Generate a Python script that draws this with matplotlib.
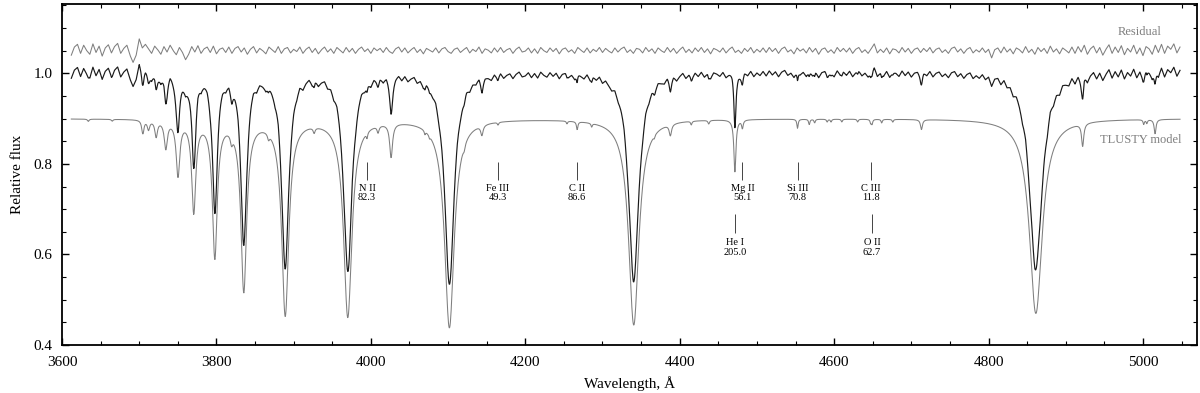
import numpy as np
import matplotlib
matplotlib.use("Agg")
import matplotlib.pyplot as plt
from matplotlib.ticker import MultipleLocator

plt.rcParams["font.family"] = ["Liberation Serif", "DejaVu Serif"]

# absorption lines of the model spectrum: centre (A), central depth, half width (A)
LINE_WL = [4861.3, 4340.5, 4101.7, 3970.1, 3889.1, 3835.4, 3797.9, 3770.6,
           3750.2, 3734.4, 3721.9, 3712.0, 3704.0,
           3705.0, 3819.6, 3867.5, 3926.5, 4009.3, 4026.2, 4120.8, 4143.8,
           4387.9, 4437.6, 4471.5, 4713.1, 4921.9, 5015.7,
           3995.0, 4070.0, 4076.0, 4164.7, 4254.0, 4267.2, 4286.0, 4367.0,
           4415.0, 4481.2, 4552.6, 4567.8, 4574.8, 4591.0, 4596.0, 4610.0,
           4630.5, 4647.4, 4649.1, 4661.6, 4676.0, 5001.0, 5005.0, 3634.0, 3665.0]
LINE_DEPTH = [0.430, 0.455, 0.460, 0.435, 0.430, 0.375, 0.300, 0.200,
              0.120, 0.060, 0.035, 0.020, 0.012,
              0.020, 0.020, 0.012, 0.012, 0.015, 0.075, 0.010, 0.022,
              0.025, 0.008, 0.115, 0.022, 0.050, 0.032,
              0.012, 0.008, 0.006, 0.006, 0.006, 0.018, 0.008, 0.006,
              0.008, 0.018, 0.020, 0.012, 0.008, 0.006, 0.006, 0.006,
              0.006, 0.008, 0.010, 0.008, 0.006, 0.010, 0.008, 0.005, 0.004]
LINE_WIDTH = [10.0, 8.0, 7.5, 6.5, 5.5, 4.5, 3.8, 3.2,
              2.8, 2.4, 2.0, 1.8, 1.6,
              1.5, 1.8, 1.5, 1.5, 1.5, 2.2, 1.5, 1.8,
              1.8, 1.2, 1.6, 1.5, 1.7, 1.4,
              1.0, 1.0, 1.0, 1.0, 1.0, 1.1, 1.0, 1.0,
              1.0, 1.2, 1.0, 1.0, 1.0, 1.0, 1.0, 1.0,
              1.0, 1.0, 1.0, 1.0, 1.0, 1.0, 1.0, 1.2, 1.2]

# residual (observed - model), units of 0.001, sampled every 4 A from 3612 A
NOISE_START, NOISE_STEP = 3612, 4
NOISE = [
    -10, 8, 14, -6, 12, 0, -8, 15, -4, 10, -12, 6, 13, -5, 9, 16, -6, 5, 12, -10, -26, -10, 26, 6, 14,
    4, -6, 10, 2, -8, 9, -3, 12, 0, -9, 7, -4, -20, -8, 9, -3, 11, -6, 4, 8, -4, 10, -7, 3, 6,
    -4, 8, -6, 5, 9, -3, 6, -8, 3, 9, -5, 5, 0, -7, 8, 2, -4, 9, -6, 4, 7, -5, 3, -2, 8,
    -6, 3, 8, -4, 5, -7, 2, 8, -3, 4, -6, 7, 1, -5, 7, -3, 5, -6, 3, 8, -2, 4, -6, 6, 0,
    5, -4, 7, -2, -6, 4, 8, -3, 6, -5, 2, 7, -4, 3, -7, 5, 1, -3, 6, -5, 4, 7, -2, -6, 3,
    6, -4, 2, 7, -5, 3, -2, 8, -6, 4, 1, -5, 6, -3, 7, -4, 2, 5, -6, 3, 8, -3, -1, 6, -5,
    4, -6, 7, 0, -4, 6, -2, 5, -7, 3, 6, -3, 2, -6, 7, 1, -4, 6, -5, 3, -2, 7, -4, 5, -1,
    -5, 6, -3, 4, 8, -4, 2, -6, 5, 3, -5, 7, -2, 4, -6, 6, 0, -4, 7, -3, 5, -6, 2, 8, -4,
    3, -5, 6, -2, 7, -4, 4, -7, 5, 2, -3, 6, -5, 3, 8, -4, 1, -6, 5, -2, 7, -5, 3, -3, 6,
    -4, 7, -2, 5, -6, 4, 8, -3, 2, -7, 6, -1, 4, -5, 7, -3, 5, -8, 3, 6, -4, 2, -6, 7, -2,
    5, -3, 6, -6, 3, 7, -4, 2, -6, 4, 15, -5, 3, -4, 6, -7, 4, 2, -5, 7, -3, 5, -6, 3, 6,
    -4, 5, -2, 7, -5, 3, 6, -4, 2, -6, 5, 8, -3, 4, -6, 3, 7, -5, 2, -3, 6, -4, 3, -16, 2,
    6, -5, 8, -3, 4, -7, 6, 2, -5, 9, -4, 3, -8, 7, -2, 5, -6, 10, -3, 4, -7, 6, 1, -5, 8,
    -6, 9, -3, 12, -8, 4, 10, -5, 7, -10, 3, 13, -6, 8, -4, 11, -9, 5, -3, 12, -7, 6, -11, 9, 4,
    -8, 12, -4, 14, -6, 10, 3, 15, -5, 8,
]

# identified lines: (label, wavelength, equivalent width)
UPPER_IDS = [("N II", 3995.0, "82.3"), ("Fe III", 4164.7, "49.3"), ("C II", 4267.2, "86.6"),
             ("Mg II", 4481.2, "56.1"), ("Si III", 4552.6, "70.8"), ("C III", 4647.4, "11.8")]
LOWER_IDS = [("He I", 4471.5, "205.0"), ("O II", 4649.1, "62.7")]

MODEL_SHIFT = -0.10
RESID_LEVEL = 1.05


def main():
    wave = np.arange(3612.0, 5048.5, 0.5)
    depth = np.zeros_like(wave)
    for c, d, w in zip(LINE_WL, LINE_DEPTH, LINE_WIDTH):
        depth += d / (1.0 + ((wave - c) / w) ** 2)
    model = 1.0 - depth

    noise_wl = NOISE_START + NOISE_STEP * np.arange(len(NOISE))
    resid = np.interp(wave, noise_wl, np.array(NOISE) * 1e-3)
    obs = model + resid

    fig = plt.figure(figsize=(12, 3.93), dpi=100)
    ax = fig.add_axes([0.0517, 0.122, 0.9458, 0.8678])

    grey = "#7f7f7f"
    ax.plot(wave, model + MODEL_SHIFT, color=grey, lw=0.75)
    ax.plot(wave, obs, color="#1a1a1a", lw=0.85)
    ax.plot(wave, RESID_LEVEL + resid, color=grey, lw=0.75)

    ax.text(4996, 1.091, "Residual", color=grey, fontsize=9, ha="center", va="center")
    ax.text(4997, 0.852, "TLUSTY model", color=grey, fontsize=9, ha="center", va="center")

    for name, wl, ew in UPPER_IDS:
        ax.vlines(wl, 0.765, 0.805, color="#444444", lw=0.7)
        ax.text(wl, 0.746, name, fontsize=7.5, ha="center", va="center")
        ax.text(wl, 0.725, ew, fontsize=7.5, ha="center", va="center")
    for name, wl, ew in LOWER_IDS:
        ax.vlines(wl, 0.648, 0.690, color="#444444", lw=0.7)
        ax.text(wl, 0.627, name, fontsize=7.5, ha="center", va="center")
        ax.text(wl, 0.605, ew, fontsize=7.5, ha="center", va="center")

    ax.set_xlim(3600, 5070)
    ax.set_ylim(0.4, 1.153)
    ax.xaxis.set_major_locator(MultipleLocator(200))
    ax.xaxis.set_minor_locator(MultipleLocator(50))
    ax.yaxis.set_major_locator(MultipleLocator(0.2))
    ax.yaxis.set_minor_locator(MultipleLocator(0.05))
    ax.yaxis.set_major_formatter(plt.FuncFormatter(lambda v, _: f"{v:.1f}"))
    ax.tick_params(which="both", direction="in", top=True, right=True, labelsize=11)
    ax.tick_params(which="major", length=5, width=1)
    ax.tick_params(which="minor", length=3, width=0.8)
    ax.tick_params(axis="x", which="major", pad=8)
    ax.tick_params(axis="y", which="major", pad=7)
    for s in ax.spines.values():
        s.set_linewidth(1.3)

    ax.set_xlabel("Wavelength, Å", fontsize=11, labelpad=5)
    ax.set_ylabel("Relative flux", fontsize=11, labelpad=7)

    fig.savefig("out.png", dpi=100)
    plt.close(fig)


if __name__ == "__main__":
    main()
